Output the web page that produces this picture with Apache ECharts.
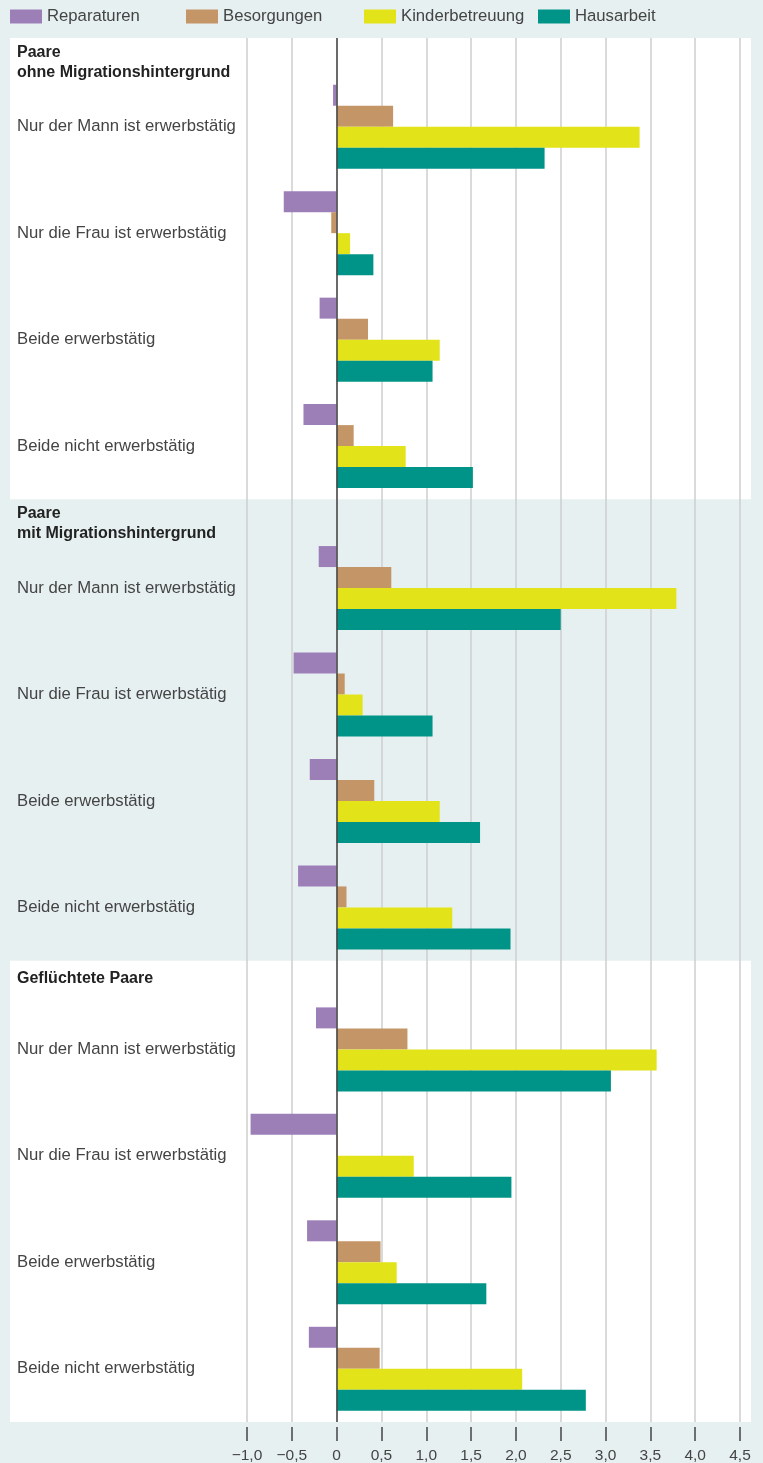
<!DOCTYPE html>
<html>
<head>
<meta charset="utf-8">
<script src="https://cdn.jsdelivr.net/npm/echarts@6/dist/echarts.min.js"></script>
<style>
html,body{margin:0;padding:0;background:#e7f0f1;}
#c{width:763px;height:1463px;}
</style>
</head>
<body>
<div id="c"></div>
<script>
// ---- data ----
const seriesNames = ['Reparaturen', 'Besorgungen', 'Kinderbetreuung', 'Hausarbeit'];
const panelTitles = ['Paare\nohne Migrationshintergrund', 'Paare\nmit Migrationshintergrund', 'Geflüchtete Paare'];
const groupLabels = ['Nur der Mann ist erwerbstätig', 'Nur die Frau ist erwerbstätig', 'Beide erwerbstätig', 'Beide nicht erwerbstätig'];
// values per panel (ohne MH, mit MH, geflüchtet) x group
const reparaturen     = [-0.04, -0.59, -0.19, -0.37,  -0.20, -0.48, -0.30, -0.43,  -0.23, -0.96, -0.33, -0.31];
const besorgungen     = [ 0.63, -0.06,  0.35,  0.19,   0.61,  0.09,  0.42,  0.11,   0.79,  0.01,  0.49,  0.48];
const kinderbetreuung = [ 3.38,  0.15,  1.15,  0.77,   3.79,  0.29,  1.15,  1.29,   3.57,  0.86,  0.67,  2.07];
const hausarbeit      = [ 2.32,  0.41,  1.07,  1.52,   2.50,  1.07,  1.60,  1.94,   3.06,  1.95,  1.67,  2.78];
const xMin = -1.0, xMax = 4.5, xStep = 0.5;

const seriesValues = [reparaturen, besorgungen, kinderbetreuung, hausarbeit];
const colors = ['#9d7fb8', '#c49566', '#e2e318', '#009488'];
const legendLeft = [10, 186, 364, 538];

// ---- build category axis (header row + 3 rows per group) ----
const cats = [];
panelTitles.forEach((t, p) => {
  cats.push({ key: 'h' + p, label: t, header: true });
  groupLabels.forEach((g, gi) => {
    cats.push({ key: 'p' + p + 'g' + gi + 'a', label: '' });
    cats.push({ key: 'p' + p + 'g' + gi + 'm', label: g, idx: p * 4 + gi });
    cats.push({ key: 'p' + p + 'g' + gi + 'b', label: '' });
  });
});

const FONT = '"Liberation Sans", Arial, sans-serif';

function labelFor(i) {
  const c = cats[i];
  if (!c.header) return c.label;
  const lines = c.label.split('\n');
  const body = lines.map(l => '{h|' + l + '}').join('\n');
  return lines.length > 1 ? '{s| }\n' + body : body;
}

const series = seriesNames.map((n, si) => {
  const s = {
    name: n,
    type: 'bar',
    barWidth: 21,
    barGap: '0%',
    itemStyle: { color: colors[si] },
    emphasis: { disabled: true },
    data: cats.map(c => (c.idx === undefined ? '-' : seriesValues[si][c.idx]))
  };
  if (si === 3) {
    s.markLine = {
      silent: true,
      symbol: ['none', 'none'],
      label: { show: false },
      lineStyle: { color: '#444', width: 1.5, type: 'solid' },
      emphasis: { disabled: true },
      data: [{ xAxis: 0 }]
    };
  }
  return s;
});

const chart = echarts.init(document.getElementById('c'), null, { renderer: 'canvas' });
const gridTop = 38, gridBottom = 41, gridLeft = 247, gridRight = 23;
const H = chart.getHeight();
const unit = (H - gridTop - gridBottom) / cats.length;
const panelRows = 13;

const graphics = [0, 2].map(p => ({
  type: 'rect',
  z: -10,
  silent: true,
  shape: { x: 10, y: gridTop + p * panelRows * unit, width: 741, height: panelRows * unit },
  style: { fill: '#ffffff' }
}));

chart.setOption({
  animation: false,
  backgroundColor: '#e7f0f1',
  textStyle: { fontFamily: FONT },
  graphic: { elements: graphics },
  legend: seriesNames.map((n, i) => ({
    data: [n],
    left: legendLeft[i],
    top: 8,
    padding: 0,
    icon: 'rect',
    itemWidth: 32,
    itemHeight: 14,
    itemGap: 0,
    selectedMode: false,
    textStyle: { fontSize: 16.7, color: '#444', fontFamily: FONT }
  })),
  grid: {
    left: gridLeft, right: gridRight, top: gridTop, bottom: gridBottom,
    containLabel: false, outerBoundsMode: 'none'
  },
  xAxis: {
    type: 'value',
    min: xMin, max: xMax, interval: xStep,
    offset: 5,
    axisLine: { show: false },
    axisTick: { show: true, length: 14, lineStyle: { color: '#444', width: 1.5 } },
    axisLabel: {
      margin: 21, fontSize: 15.5, color: '#444', fontFamily: FONT, hideOverlap: false,
      showMinLabel: true, showMaxLabel: true,
      formatter: v => (v === 0 ? '0' : v.toFixed(1).replace('.', ',').replace('-', '\u2212'))
    },
    splitLine: { show: true, lineStyle: { color: '#cdcfcf', width: 1.5 } }
  },
  yAxis: {
    type: 'category',
    inverse: true,
    data: cats.map(c => c.key),
    axisLine: { show: false },
    axisTick: { show: false },
    splitLine: { show: false },
    axisLabel: {
      interval: 0,
      align: 'left',
      margin: gridLeft - 17,
      fontSize: 16.7,
      color: '#444',
      fontFamily: FONT,
      formatter: (v, i) => labelFor(i),
      rich: {
        h: { fontWeight: 'bold', fontSize: 16, color: '#222', lineHeight: 20, fontFamily: FONT },
        s: { fontSize: 1, lineHeight: 13 }
      }
    }
  },
  series: series
});
</script>
</body>
</html>
